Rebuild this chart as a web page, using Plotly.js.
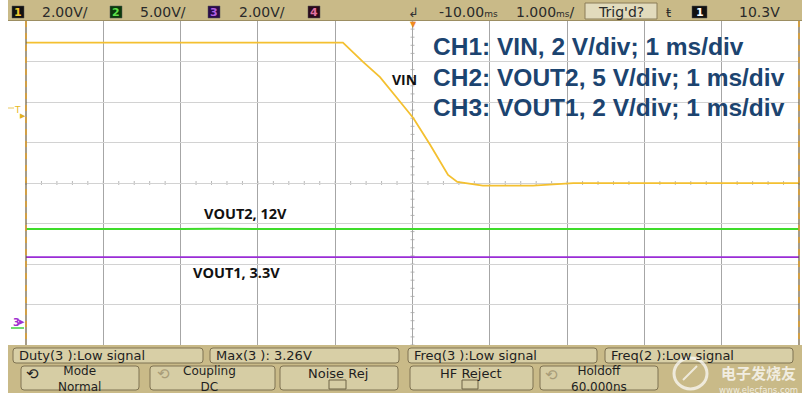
<!DOCTYPE html>
<html>
<head>
<meta charset="utf-8">
<script src="https://cdn.plot.ly/plotly-3.0.1.min.js"></script>
<style>html,body{margin:0;padding:0;background:#fff;}#chart{width:810px;height:400px;}</style>
</head>
<body>
<div id="chart"></div>
<script>
// ---- Data (time in ms, voltage in V) ----
const vinTime = [-5.0, -0.90, -0.64, -0.42, -0.20, 0.01, 0.23, 0.36, 0.46, 0.58, 0.74, 0.91, 1.56, 1.82, 2.08, 5.0];
const vinVolts = [13.85, 13.85, 12.90, 12.15, 11.12, 10.13, 8.80, 7.96, 7.32, 6.97, 6.87, 6.79, 6.79, 6.86, 6.91, 6.91];

const vout2Time = [-5.0, -4.5, -4.0, -3.5, -3.0, -2.5, -2.0, -1.5, -1.0, -0.5, 0.0, 0.5, 1.0, 1.5, 2.0, 2.5, 3.0, 3.5, 4.0, 4.5, 5.0];
const vout2Volts = [11.62, 11.60, 11.63, 11.61, 11.62, 11.64, 11.60, 11.62, 11.61, 11.63, 11.62, 11.60, 11.63, 11.61, 11.64, 11.60, 11.62, 11.63, 11.61, 11.62, 11.63];

const vout1Time = [-5.0, 5.0];
const vout1Volts = [3.26, 3.26];

const chLabels = ["CH1: VIN, 2 V/div; 1 ms/div", "CH2: VOUT2, 5 V/div; 1 ms/div", "CH3: VOUT1, 2 V/div; 1 ms/div"];
const topScales = ["2.00V/", "5.00V/", "2.00V/"];
const measures = ["Duty(3 ):Low signal", "Max(3 ): 3.26V", "Freq(3 ):Low signal", "Freq(2 ):Low signal"];

// ---- geometry helpers (pixel -> paper) ----
const W = 810, H = 400;
const px = x => x / W;
const py = y => 1 - y / H;
const TAN = '#c9ba88';

function rr(x0, y0, x1, y1, r) {
  const X = px, Y = py;
  return `M${X(x0+r)},${Y(y0)} L${X(x1-r)},${Y(y0)} Q${X(x1)},${Y(y0)} ${X(x1)},${Y(y0+r)} ` +
         `L${X(x1)},${Y(y1-r)} Q${X(x1)},${Y(y1)} ${X(x1-r)},${Y(y1)} L${X(x0+r)},${Y(y1)} ` +
         `Q${X(x0)},${Y(y1)} ${X(x0)},${Y(y1-r)} L${X(x0)},${Y(y0+r)} Q${X(x0)},${Y(y0)} ${X(x0+r)},${Y(y0)} Z`;
}
function rect(x0, y0, x1, y1, fill, line, lw) {
  return {type:'rect', xref:'paper', yref:'paper', x0:px(x0), x1:px(x1), y0:py(y1), y1:py(y0),
          fillcolor:fill, line:{color:line || fill, width: lw === undefined ? 0 : lw}, layer:'above'};
}
function seg(x0, y0, x1, y1, color, w, dash) {
  return {type:'line', xref:'paper', yref:'paper', x0:px(x0), x1:px(x1), y0:py(y0), y1:py(y1),
          line:{color:color, width:w, dash: dash || 'solid'}, layer:'above'};
}
function txt(x, y, text, size, color, xa, opts) {
  return Object.assign({xref:'paper', yref:'paper', x:px(x), y:py(y), text:text, showarrow:false,
    xanchor: xa || 'left', yanchor:'middle',
    font:{family:'DejaVu Sans, Liberation Sans, sans-serif', size:size, color:color}}, opts || {});
}

const shapes = [];
const ann = [];

// center minor ticks
for (let i = -25; i <= 25; i++) {
  const x = 412.5 + i * 77.3 / 5;
  shapes.push(Object.assign(seg(x, 181, x, 185, '#b8b8b8', 1), {layer:'below'}));
}
for (let i = -20; i <= 20; i++) {
  const y = 183 - i * 40.5 / 5;
  shapes.push(Object.assign(seg(410.5, y, 414.5, y, '#b8b8b8', 1), {layer:'below'}));
}

// text box for channel legend
shapes.push({type:'rect', xref:'paper', yref:'paper', x0:px(424), x1:px(796), y0:py(128), y1:py(29),
             fillcolor:'#ffffff', line:{width:0}, layer:'below'});

// plot borders
shapes.push(seg(26, 21, 26, 345, '#6b5a3a', 1.2));
shapes.push(seg(26, 21, 26, 345, '#e0a030', 1.5, '6px,6px'));
shapes.push(seg(799, 21, 799, 345, '#6b5a3a', 1.2));
shapes.push(seg(799, 21, 799, 345, '#e0a030', 1.5, '6px,6px'));

// top bar
shapes.push(rect(8, 0, 802, 20, TAN));
shapes.push(seg(8, 20.5, 802, 20.5, '#9c8e62', 1));
const chBox = [[12, '#111', '#f0c830', '1'], [110, '#0c3a0c', '#5fe04a', '2'], [208, '#2a0c4a', '#b060e0', '3'], [308, '#2a0a1a', '#e070a0', '4']];
chBox.forEach(b => {
  shapes.push(rect(b[0], 6, b[0] + 12, 18, b[1], '#555', 0.5));
  ann.push(txt(b[0] + 6, 12, '<b>' + b[3] + '</b>', 11, b[2], 'center'));
});
[40, 138, 237].forEach((x, i) => ann.push(txt(x, 12, topScales[i], 14, '#2a2a2a')));
ann.push(txt(413, 13, '↲', 13, '#333', 'center'));
ann.push(txt(437, 12, '-10.00<span style="font-size:9px">ms</span>', 14, '#2a2a2a'));
ann.push(txt(514, 12, '1.000<span style="font-size:9px">ms</span>/', 14, '#2a2a2a'));
shapes.push(rect(585, 3, 657, 19, '#e2dbbd', '#8a7d58', 1));
ann.push(txt(621, 12, "Trig'd?", 14, '#2a2a2a', 'center'));
ann.push(txt(668, 12, 'ŧ', 13, '#2a2a2a', 'center'));
shapes.push(rect(692, 6, 707, 18, '#111', '#555', 0.5));
ann.push(txt(699.5, 12, '<b>1</b>', 11, '#ffffff', 'center'));
ann.push(txt(737, 12, '10.3V', 14, '#2a2a2a'));

// trigger position marker
ann.push(txt(413, 24, '▼', 8, '#f08a20', 'center'));

// bottom bar
shapes.push(rect(8, 345, 802, 393, TAN));
[[13, 203], [210, 399], [408, 597], [605, 793]].forEach((b, i) => {
  shapes.push({type:'path', xref:'paper', yref:'paper', path: rr(b[0], 348, b[1], 363, 3),
               fillcolor:'#d8cfa6', line:{color:'#7f7352', width:1}, layer:'above'});
  ann.push(txt(b[0] + 4, 355.5, measures[i], 13, '#1e1e1e'));
});
const buttons = [[21, 139], [150, 275], [280, 398], [410, 533], [540, 658]];
buttons.forEach(b => {
  shapes.push({type:'path', xref:'paper', yref:'paper', path: rr(b[0], 366, b[1], 390, 3),
               fillcolor:'#d6cda4', line:{color:'#7f7352', width:1}, layer:'above'});
});
const btnFont = {family:'DejaVu Sans, sans-serif', size:12, color:'#1e1e1e'};
ann.push(txt(32, 374, '⟲', 15, '#222', 'center'));
ann.push(txt(79, 378.5, 'Mode<br>Normal', 12, '#1e1e1e', 'center', {font:btnFont}));
ann.push(txt(163, 374, '⟲', 15, '#a89c78', 'center'));
ann.push(txt(209, 378.5, 'Coupling<br>DC', 12, '#1e1e1e', 'center', {font:btnFont}));
ann.push(txt(338, 373, 'Noise Rej', 13, '#1e1e1e', 'center'));
shapes.push(rect(329, 380, 346, 389, '#d6cda4', '#6f6446', 1));
ann.push(txt(471, 373, 'HF Reject', 13, '#1e1e1e', 'center'));
shapes.push(rect(462, 380, 478, 389, '#d6cda4', '#6f6446', 1));
ann.push(txt(551, 375, '⟲', 15, '#a89c78', 'center'));
ann.push(txt(599, 378.5, 'Holdoff<br>60.000ns', 12, '#1e1e1e', 'center', {font:btnFont}));

// watermark
shapes.push({type:'circle', xref:'paper', yref:'paper', x0:px(674), x1:px(707), y0:py(389), y1:py(358),
             fillcolor:'rgba(255,255,255,0.0)', line:{color:'rgba(255,255,255,0.7)', width:3}, layer:'above'});
shapes.push(seg(683, 380, 697, 366, 'rgba(255,255,255,0.7)', 2));
ann.push(txt(758, 372, '<b>电子发烧友</b>', 15, 'rgba(255,255,255,0.75)', 'center',
  {font:{family:'Noto Sans CJK SC', size:15, color:'rgba(255,255,255,0.75)'}}));
ann.push(txt(758, 389.5, 'www.elecfans.com', 8.5, 'rgba(255,255,255,0.75)', 'center'));

// left markers
ann.push(txt(17, 110, 'T', 9, '#e8b820', 'center'));
shapes.push(seg(8, 108, 14, 108, '#e8c860', 1));
ann.push(txt(23, 116, '▶', 7, '#e0b020', 'center'));
ann.push(txt(16, 322, '<b>3</b>', 10, '#a030d0', 'center'));
ann.push(txt(22, 322, '▶', 7, '#a030d0', 'center'));
shapes.push(seg(11, 328, 24, 328, '#40d040', 1.5));

// channel legend text
const legY = [47, 77, 107];
chLabels.forEach((t, i) => ann.push(txt(431, legY[i], '<b>' + t + '</b>', 24.5, '#1c4470', 'left',
  {font:{family:'Liberation Sans, Arial, sans-serif', size:24.5, color:'#1c4470'}})));

// trace labels
const lblFont = s => ({family:'Open Sans, Liberation Sans, sans-serif', size:s, color:'#111'});
ann.push(txt(404.5, 80, '<b>VIN</b>', 14, '#111', 'center', {font:lblFont(14)}));
ann.push(txt(245, 213, '<b>VOUT2, 12V</b>', 14.5, '#111', 'center', {font:lblFont(14.5)}));
ann.push(txt(236, 272, '<b>VOUT1, 3.3V</b>', 14.5, '#111', 'center', {font:lblFont(14.5)}));

const traces = [
  {x: vinTime, y: vinVolts, type:'scatter', mode:'lines', line:{color:'#f4c030', width:1.8}, yaxis:'y', name:'VIN'},
  {x: vout2Time, y: vout2Volts, type:'scatter', mode:'lines', line:{color:'#3fdc2a', width:2}, yaxis:'y2', name:'VOUT2'},
  {x: vout1Time, y: vout1Volts, type:'scatter', mode:'lines', line:{color:'#9a2cd6', width:1.6}, yaxis:'y3', name:'VOUT1'}
];

const off = 3.46; // ground marker position (divisions below center)
const layout = {
  width: W, height: H,
  margin: {l:0, r:0, t:0, b:0},
  paper_bgcolor: '#ffffff', plot_bgcolor: '#ffffff',
  showlegend: false,
  xaxis: {domain:[px(26), px(799)], range:[-5, 5], dtick:1, tick0:0, showgrid:true, gridcolor:'#a6a6a6',
          gridwidth:1, zeroline:false, showticklabels:false, ticks:'', showline:false, fixedrange:true},
  yaxis: {domain:[py(345), py(21)], range:[(-4 + off) * 2, (4 + off) * 2], dtick:2, tick0:(-4 + off) * 2,
          showgrid:true, gridcolor:'#d2d2d2', gridwidth:1, zeroline:false, showticklabels:false, ticks:'', showline:false},
  yaxis2: {overlaying:'y', range:[(-4 + off) * 5, (4 + off) * 5], visible:false, showgrid:false, zeroline:false},
  yaxis3: {overlaying:'y', range:[(-4 + off) * 2, (4 + off) * 2], visible:false, showgrid:false, zeroline:false},
  shapes: shapes,
  annotations: ann
};

Plotly.newPlot('chart', traces, layout, {staticPlot:true, displayModeBar:false});
</script>
</body>
</html>
